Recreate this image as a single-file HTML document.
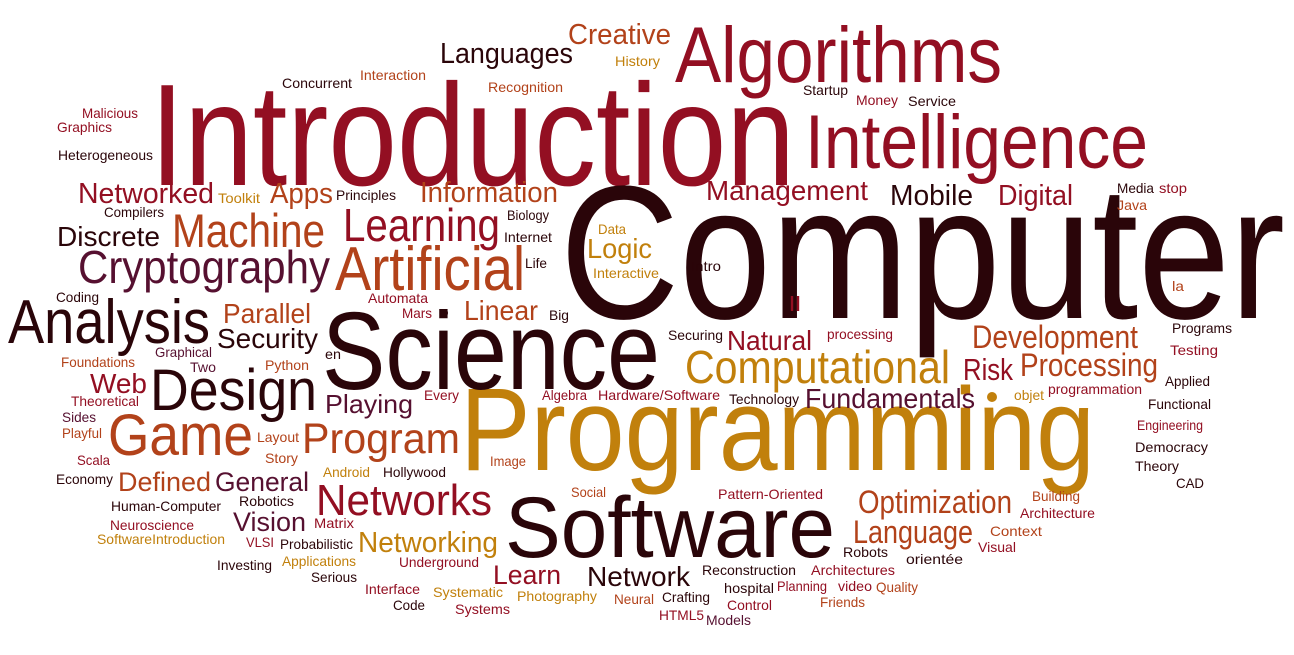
<!DOCTYPE html>
<html><head><meta charset="utf-8"><style>
html,body{margin:0;padding:0;background:#fff;}
svg{display:block;}
text{font-family:"Liberation Sans",sans-serif;}
.d{fill:#2a0509}.r{fill:#930f22}.o{fill:#b2421a}.g{fill:#c1800c}.p{fill:#561030}
</style></head><body>
<svg width="1294" height="655" viewBox="0 0 1294 655" lengthAdjust="spacingAndGlyphs">
<g>
<text class="r" x="150" y="185" font-size="145" textLength="645" lengthAdjust="spacingAndGlyphs">Introduction</text>
<text class="d" x="560" y="318" font-size="190" textLength="725" lengthAdjust="spacingAndGlyphs">Computer</text>
<text class="g" x="460" y="470" font-size="118" textLength="635" lengthAdjust="spacingAndGlyphs">Programming</text>
<text class="d" x="505" y="557" font-size="86" textLength="330" lengthAdjust="spacingAndGlyphs">Software</text>
<text class="d" x="322" y="389" font-size="110" textLength="338" lengthAdjust="spacingAndGlyphs">Science</text>
<text class="r" x="675" y="82" font-size="79" textLength="327" lengthAdjust="spacingAndGlyphs">Algorithms</text>
<text class="r" x="805" y="168" font-size="76" textLength="343" lengthAdjust="spacingAndGlyphs">Intelligence</text>
<text class="d" x="150" y="410" font-size="58" textLength="167" lengthAdjust="spacingAndGlyphs">Design</text>
<text class="d" x="8" y="343" font-size="62" textLength="202" lengthAdjust="spacingAndGlyphs">Analysis</text>
<text class="o" x="108" y="455" font-size="58" textLength="145" lengthAdjust="spacingAndGlyphs">Game</text>
<text class="p" x="78" y="283" font-size="46" textLength="252" lengthAdjust="spacingAndGlyphs">Cryptography</text>
<text class="o" x="335" y="290" font-size="62" textLength="190" lengthAdjust="spacingAndGlyphs">Artificial</text>
<text class="o" x="172" y="247" font-size="47" textLength="153" lengthAdjust="spacingAndGlyphs">Machine</text>
<text class="r" x="343" y="241" font-size="46" textLength="157" lengthAdjust="spacingAndGlyphs">Learning</text>
<text class="o" x="302" y="453" font-size="43" textLength="158" lengthAdjust="spacingAndGlyphs">Program</text>
<text class="r" x="316" y="515" font-size="44" textLength="176" lengthAdjust="spacingAndGlyphs">Networks</text>
<text class="g" x="685" y="383" font-size="46" textLength="265" lengthAdjust="spacingAndGlyphs">Computational</text>
</g>
<g>
<text class="o" x="972" y="348" font-size="32" textLength="166" lengthAdjust="spacingAndGlyphs">Development</text>
<text class="o" x="1020" y="376" font-size="32" textLength="138" lengthAdjust="spacingAndGlyphs">Processing</text>
<text class="r" x="963" y="380" font-size="31" textLength="50" lengthAdjust="spacingAndGlyphs">Risk</text>
<text class="o" x="858" y="513" font-size="32" textLength="154" lengthAdjust="spacingAndGlyphs">Optimization</text>
<text class="o" x="853" y="543" font-size="32" textLength="120" lengthAdjust="spacingAndGlyphs">Language</text>
<text class="g" x="358" y="552" font-size="29" textLength="140" lengthAdjust="spacingAndGlyphs">Networking</text>
<text class="r" x="706" y="200" font-size="28" textLength="162" lengthAdjust="spacingAndGlyphs">Management</text>
<text class="d" x="890" y="205" font-size="29" textLength="83" lengthAdjust="spacingAndGlyphs">Mobile</text>
<text class="r" x="998" y="205" font-size="29" textLength="75" lengthAdjust="spacingAndGlyphs">Digital</text>
<text class="o" x="420" y="202" font-size="29" textLength="138" lengthAdjust="spacingAndGlyphs">Information</text>
<text class="r" x="78" y="203" font-size="29" textLength="136" lengthAdjust="spacingAndGlyphs">Networked</text>
<text class="o" x="270" y="203" font-size="29" textLength="63" lengthAdjust="spacingAndGlyphs">Apps</text>
<text class="d" x="440" y="63" font-size="29" textLength="133" lengthAdjust="spacingAndGlyphs">Languages</text>
<text class="o" x="568" y="44" font-size="29" textLength="103" lengthAdjust="spacingAndGlyphs">Creative</text>
<text class="d" x="57" y="246" font-size="28" textLength="103" lengthAdjust="spacingAndGlyphs">Discrete</text>
<text class="g" x="587" y="258" font-size="28" textLength="65" lengthAdjust="spacingAndGlyphs">Logic</text>
<text class="o" x="223" y="323" font-size="28" textLength="88" lengthAdjust="spacingAndGlyphs">Parallel</text>
<text class="d" x="217" y="348" font-size="28" textLength="101" lengthAdjust="spacingAndGlyphs">Security</text>
<text class="o" x="464" y="320" font-size="28" textLength="74" lengthAdjust="spacingAndGlyphs">Linear</text>
<text class="r" x="90" y="393" font-size="28" textLength="57" lengthAdjust="spacingAndGlyphs">Web</text>
<text class="p" x="325" y="413" font-size="26" textLength="88" lengthAdjust="spacingAndGlyphs">Playing</text>
<text class="o" x="118" y="491" font-size="27" textLength="93" lengthAdjust="spacingAndGlyphs">Defined</text>
<text class="p" x="215" y="491" font-size="27" textLength="94" lengthAdjust="spacingAndGlyphs">General</text>
<text class="p" x="233" y="531" font-size="27" textLength="73" lengthAdjust="spacingAndGlyphs">Vision</text>
<text class="r" x="493" y="584" font-size="27" textLength="68" lengthAdjust="spacingAndGlyphs">Learn</text>
<text class="d" x="587" y="586" font-size="28" textLength="103" lengthAdjust="spacingAndGlyphs">Network</text>
<text class="r" x="727" y="350" font-size="28" textLength="85" lengthAdjust="spacingAndGlyphs">Natural</text>
<text class="p" x="805" y="408" font-size="28" textLength="170" lengthAdjust="spacingAndGlyphs">Fundamentals</text>
</g>
<g font-size="14">
<text class="d" x="282" y="88" textLength="70" lengthAdjust="spacingAndGlyphs">Concurrent</text>
<text class="o" x="360" y="80" textLength="66" lengthAdjust="spacingAndGlyphs">Interaction</text>
<text class="o" x="488" y="92" textLength="75" lengthAdjust="spacingAndGlyphs">Recognition</text>
<text class="g" x="615" y="66" textLength="45" lengthAdjust="spacingAndGlyphs">History</text>
<text class="d" x="803" y="95" textLength="45" lengthAdjust="spacingAndGlyphs">Startup</text>
<text class="r" x="856" y="105" textLength="42" lengthAdjust="spacingAndGlyphs">Money</text>
<text class="d" x="908" y="106" textLength="48" lengthAdjust="spacingAndGlyphs">Service</text>
<text class="r" x="82" y="118" textLength="56" lengthAdjust="spacingAndGlyphs">Malicious</text>
<text class="r" x="57" y="132" textLength="55" lengthAdjust="spacingAndGlyphs">Graphics</text>
<text class="d" x="58" y="160" textLength="95" lengthAdjust="spacingAndGlyphs">Heterogeneous</text>
<text class="g" x="218" y="203" textLength="42" lengthAdjust="spacingAndGlyphs">Toolkit</text>
<text class="d" x="336" y="200" textLength="60" lengthAdjust="spacingAndGlyphs">Principles</text>
<text class="d" x="104" y="217" textLength="60" lengthAdjust="spacingAndGlyphs">Compilers</text>
<text class="d" x="507" y="220" textLength="42" lengthAdjust="spacingAndGlyphs">Biology</text>
<text class="d" x="504" y="242" textLength="48" lengthAdjust="spacingAndGlyphs">Internet</text>
<text class="g" x="598" y="234" textLength="28" lengthAdjust="spacingAndGlyphs">Data</text>
<text class="d" x="525" y="268" textLength="22" lengthAdjust="spacingAndGlyphs">Life</text>
<text class="g" x="593" y="278" textLength="66" lengthAdjust="spacingAndGlyphs">Interactive</text>
<text class="d" x="691" y="271" textLength="30" lengthAdjust="spacingAndGlyphs">Intro</text>
<text class="d" x="1117" y="193" textLength="37" lengthAdjust="spacingAndGlyphs">Media</text>
<text class="r" x="1159" y="193" textLength="28" lengthAdjust="spacingAndGlyphs">stop</text>
<text class="o" x="1117" y="210" textLength="30" lengthAdjust="spacingAndGlyphs">Java</text>
<text class="d" x="56" y="302" textLength="43" lengthAdjust="spacingAndGlyphs">Coding</text>
<text class="r" x="368" y="303" textLength="60" lengthAdjust="spacingAndGlyphs">Automata</text>
<text class="r" x="402" y="318" textLength="30" lengthAdjust="spacingAndGlyphs">Mars</text>
<text class="d" x="549" y="320" textLength="20" lengthAdjust="spacingAndGlyphs">Big</text>
<text class="r" x="789" y="311" font-size="20" textLength="12" lengthAdjust="spacingAndGlyphs">ll</text>
<text class="o" x="1172" y="291" textLength="12" lengthAdjust="spacingAndGlyphs">la</text>
<text class="d" x="668" y="340" textLength="55" lengthAdjust="spacingAndGlyphs">Securing</text>
<text class="r" x="827" y="339" textLength="66" lengthAdjust="spacingAndGlyphs">processing</text>
<text class="d" x="1172" y="333" textLength="60" lengthAdjust="spacingAndGlyphs">Programs</text>
<text class="r" x="1170" y="355" textLength="48" lengthAdjust="spacingAndGlyphs">Testing</text>
<text class="d" x="1165" y="386" textLength="45" lengthAdjust="spacingAndGlyphs">Applied</text>
<text class="d" x="1148" y="409" textLength="63" lengthAdjust="spacingAndGlyphs">Functional</text>
<text class="r" x="1137" y="430" textLength="66" lengthAdjust="spacingAndGlyphs">Engineering</text>
<text class="d" x="1135" y="452" textLength="73" lengthAdjust="spacingAndGlyphs">Democracy</text>
<text class="d" x="1135" y="471" textLength="44" lengthAdjust="spacingAndGlyphs">Theory</text>
<text class="d" x="1176" y="488" textLength="28" lengthAdjust="spacingAndGlyphs">CAD</text>
<text class="o" x="1032" y="501" textLength="48" lengthAdjust="spacingAndGlyphs">Building</text>
<text class="r" x="1020" y="518" textLength="75" lengthAdjust="spacingAndGlyphs">Architecture</text>
<text class="o" x="990" y="536" textLength="52" lengthAdjust="spacingAndGlyphs">Context</text>
<text class="r" x="978" y="552" textLength="38" lengthAdjust="spacingAndGlyphs">Visual</text>
<text class="d" x="906" y="564" textLength="57" lengthAdjust="spacingAndGlyphs">orientée</text>
<text class="d" x="843" y="557" textLength="45" lengthAdjust="spacingAndGlyphs">Robots</text>
<text class="r" x="811" y="575" textLength="84" lengthAdjust="spacingAndGlyphs">Architectures</text>
<text class="d" x="702" y="575" textLength="94" lengthAdjust="spacingAndGlyphs">Reconstruction</text>
<text class="d" x="724" y="593" textLength="50" lengthAdjust="spacingAndGlyphs">hospital</text>
<text class="r" x="777" y="591" textLength="50" lengthAdjust="spacingAndGlyphs">Planning</text>
<text class="r" x="838" y="591" textLength="34" lengthAdjust="spacingAndGlyphs">video</text>
<text class="o" x="876" y="592" textLength="42" lengthAdjust="spacingAndGlyphs">Quality</text>
<text class="o" x="820" y="607" textLength="45" lengthAdjust="spacingAndGlyphs">Friends</text>
<text class="r" x="727" y="610" textLength="45" lengthAdjust="spacingAndGlyphs">Control</text>
<text class="d" x="662" y="602" textLength="48" lengthAdjust="spacingAndGlyphs">Crafting</text>
<text class="r" x="659" y="620" textLength="45" lengthAdjust="spacingAndGlyphs">HTML5</text>
<text class="p" x="706" y="625" textLength="45" lengthAdjust="spacingAndGlyphs">Models</text>
<text class="o" x="614" y="604" textLength="40" lengthAdjust="spacingAndGlyphs">Neural</text>
<text class="g" x="517" y="601" textLength="80" lengthAdjust="spacingAndGlyphs">Photography</text>
<text class="g" x="433" y="597" textLength="70" lengthAdjust="spacingAndGlyphs">Systematic</text>
<text class="r" x="455" y="614" textLength="55" lengthAdjust="spacingAndGlyphs">Systems</text>
<text class="r" x="365" y="594" textLength="55" lengthAdjust="spacingAndGlyphs">Interface</text>
<text class="d" x="393" y="610" textLength="32" lengthAdjust="spacingAndGlyphs">Code</text>
<text class="d" x="311" y="582" textLength="46" lengthAdjust="spacingAndGlyphs">Serious</text>
<text class="r" x="399" y="567" textLength="80" lengthAdjust="spacingAndGlyphs">Underground</text>
<text class="g" x="282" y="566" textLength="74" lengthAdjust="spacingAndGlyphs">Applications</text>
<text class="d" x="217" y="570" textLength="55" lengthAdjust="spacingAndGlyphs">Investing</text>
<text class="d" x="280" y="549" textLength="73" lengthAdjust="spacingAndGlyphs">Probabilistic</text>
<text class="r" x="246" y="547" textLength="28" lengthAdjust="spacingAndGlyphs">VLSI</text>
<text class="r" x="314" y="528" textLength="40" lengthAdjust="spacingAndGlyphs">Matrix</text>
<text class="d" x="239" y="506" textLength="55" lengthAdjust="spacingAndGlyphs">Robotics</text>
<text class="d" x="111" y="511" textLength="110" lengthAdjust="spacingAndGlyphs">Human-Computer</text>
<text class="r" x="110" y="530" textLength="84" lengthAdjust="spacingAndGlyphs">Neuroscience</text>
<text class="g" x="97" y="544" textLength="128" lengthAdjust="spacingAndGlyphs">SoftwareIntroduction</text>
<text class="d" x="56" y="484" textLength="57" lengthAdjust="spacingAndGlyphs">Economy</text>
<text class="r" x="77" y="465" textLength="33" lengthAdjust="spacingAndGlyphs">Scala</text>
<text class="g" x="323" y="477" textLength="47" lengthAdjust="spacingAndGlyphs">Android</text>
<text class="d" x="383" y="477" textLength="63" lengthAdjust="spacingAndGlyphs">Hollywood</text>
<text class="o" x="490" y="466" textLength="36" lengthAdjust="spacingAndGlyphs">Image</text>
<text class="o" x="571" y="497" textLength="35" lengthAdjust="spacingAndGlyphs">Social</text>
<text class="r" x="718" y="499" textLength="105" lengthAdjust="spacingAndGlyphs">Pattern-Oriented</text>
<text class="o" x="265" y="463" textLength="33" lengthAdjust="spacingAndGlyphs">Story</text>
<text class="o" x="257" y="442" textLength="42" lengthAdjust="spacingAndGlyphs">Layout</text>
<text class="o" x="62" y="438" textLength="40" lengthAdjust="spacingAndGlyphs">Playful</text>
<text class="p" x="62" y="422" textLength="34" lengthAdjust="spacingAndGlyphs">Sides</text>
<text class="r" x="71" y="406" textLength="68" lengthAdjust="spacingAndGlyphs">Theoretical</text>
<text class="o" x="61" y="367" textLength="74" lengthAdjust="spacingAndGlyphs">Foundations</text>
<text class="p" x="155" y="357" textLength="57" lengthAdjust="spacingAndGlyphs">Graphical</text>
<text class="p" x="190" y="372" textLength="26" lengthAdjust="spacingAndGlyphs">Two</text>
<text class="o" x="265" y="370" textLength="44" lengthAdjust="spacingAndGlyphs">Python</text>
<text class="d" x="325" y="359" textLength="16" lengthAdjust="spacingAndGlyphs">en</text>
<text class="r" x="424" y="400" textLength="35" lengthAdjust="spacingAndGlyphs">Every</text>
<text class="r" x="542" y="400" textLength="45" lengthAdjust="spacingAndGlyphs">Algebra</text>
<text class="r" x="598" y="400" textLength="122" lengthAdjust="spacingAndGlyphs">Hardware/Software</text>
<text class="d" x="729" y="404" textLength="70" lengthAdjust="spacingAndGlyphs">Technology</text>
<text class="g" x="1014" y="400" textLength="30" lengthAdjust="spacingAndGlyphs">objet</text>
<text class="r" x="1048" y="394" textLength="94" lengthAdjust="spacingAndGlyphs">programmation</text>
</g>
<circle class="d" cx="444" cy="313" r="4"/>
<circle class="g" cx="992" cy="397" r="5"/>
</svg>
</body></html>
